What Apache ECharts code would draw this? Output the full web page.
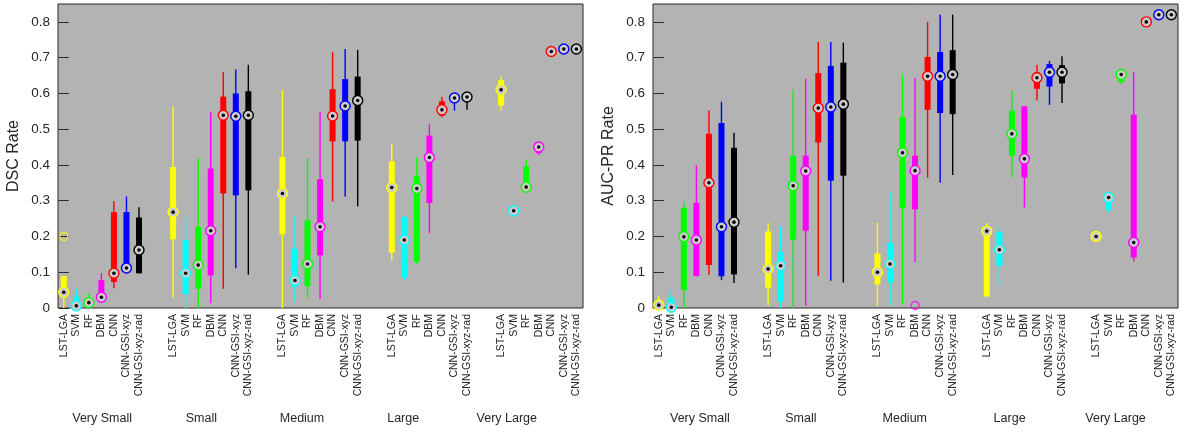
<!DOCTYPE html>
<html>
<head>
<meta charset="utf-8">
<script src="https://cdn.jsdelivr.net/npm/echarts@6/dist/echarts.min.js"></script>
<style>
  html, body { margin: 0; padding: 0; background: #fff; }
  #main { width: 1184px; height: 436px; }
</style>
</head>
<body>
<div id="main"></div>
<script>
var groups = ['Very Small', 'Small', 'Medium', 'Large', 'Very Large'];
var methods = ['LST-LGA', 'SVM', 'RF', 'DBM', 'CNN', 'CNN-GSI-xyz', 'CNN-GSI-xyz-rad'];
var methodColors = ['#ffff00', '#00ffff', '#00ff00', '#ff00ff', '#ff0000', '#0000ff', '#000000'];
var yTicks = [0, 0.1, 0.2, 0.3, 0.4, 0.5, 0.6, 0.7, 0.8];

// DSC rate, 7 methods per size group
var dscLow = [0, 0, 0.003, 0.018, 0.055, 0.11, 0.097,
  0.029, 0, 0, 0.013, 0.054, 0.111, 0.093,
  0, 0.018, 0.027, 0.025, 0.298, 0.312, 0.284,
  0.132, 0.078, 0.123, 0.21, 0.533, 0.552, 0.554,
  0.552, 0.268, 0.338, 0.428, 0.714, 0.722, 0.722];
var dscQ1 = [0.03, 0, 0.005, 0.025, 0.073, 0.11, 0.097,
  0.192, 0.039, 0.054, 0.091, 0.32, 0.315, 0.329,
  0.206, 0.058, 0.061, 0.147, 0.466, 0.466, 0.468,
  0.155, 0.085, 0.129, 0.294, 0.538, 0.578, 0.58,
  0.566, 0.27, 0.338, 0.433, 0.716, 0.723, 0.723];
var dscMed = [0.044, 0.006, 0.015, 0.03, 0.097, 0.112, 0.162,
  0.268, 0.097, 0.12, 0.216, 0.539, 0.536, 0.539,
  0.32, 0.077, 0.123, 0.227, 0.537, 0.565, 0.58,
  0.337, 0.19, 0.334, 0.421, 0.554, 0.587, 0.59,
  0.61, 0.272, 0.338, 0.45, 0.717, 0.724, 0.724];
var dscQ3 = [0.089, 0.032, 0.028, 0.078, 0.268, 0.268, 0.253,
  0.394, 0.19, 0.227, 0.39, 0.591, 0.6, 0.606,
  0.422, 0.166, 0.245, 0.36, 0.612, 0.64, 0.647,
  0.41, 0.255, 0.368, 0.482, 0.578, 0.594, 0.597,
  0.637, 0.275, 0.396, 0.452, 0.719, 0.726, 0.726];
var dscHigh = [0.089, 0.053, 0.041, 0.098, 0.299, 0.312, 0.282,
  0.563, 0.256, 0.42, 0.548, 0.659, 0.667, 0.68,
  0.609, 0.256, 0.42, 0.548, 0.716, 0.724, 0.722,
  0.459, 0.255, 0.42, 0.515, 0.591, 0.598, 0.6,
  0.647, 0.277, 0.414, 0.452, 0.72, 0.729, 0.728];
var dscOutliers = [[0, 0, 0.2]]; // [group, method, value]

// AUC-PR rate
var aucLow = [0, 0, 0, 0.089, 0.092, 0.078, 0.07,
  0.007, 0, 0, 0.007, 0.09, 0.076, 0.071,
  0.007, 0.008, 0.011, 0.128, 0.364, 0.35, 0.372,
  0.032, 0.064, 0.366, 0.281, 0.58, 0.568, 0.573,
  0.198, 0.267, 0.625, 0.129, 0.798, 0.818, 0.818];
var aucQ1 = [0.005, 0, 0.05, 0.089, 0.12, 0.089, 0.094,
  0.057, 0.018, 0.191, 0.216, 0.463, 0.356, 0.37,
  0.066, 0.071, 0.28, 0.276, 0.554, 0.545, 0.542,
  0.032, 0.118, 0.426, 0.365, 0.613, 0.619, 0.628,
  0.199, 0.275, 0.631, 0.141, 0.799, 0.819, 0.819];
var aucMed = [0.008, 0.002, 0.199, 0.19, 0.35, 0.227, 0.24,
  0.109, 0.118, 0.342, 0.383, 0.559, 0.562, 0.57,
  0.1, 0.123, 0.434, 0.384, 0.648, 0.648, 0.653,
  0.215, 0.163, 0.487, 0.417, 0.644, 0.659, 0.659,
  0.2, 0.309, 0.653, 0.183, 0.8, 0.82, 0.82];
var aucQ3 = [0.012, 0.03, 0.28, 0.294, 0.487, 0.517, 0.448,
  0.214, 0.156, 0.426, 0.426, 0.657, 0.677, 0.686,
  0.152, 0.182, 0.534, 0.426, 0.702, 0.716, 0.721,
  0.217, 0.213, 0.552, 0.564, 0.659, 0.682, 0.679,
  0.201, 0.32, 0.653, 0.54, 0.801, 0.821, 0.821];
var aucHigh = [0.033, 0.052, 0.299, 0.399, 0.552, 0.577, 0.49,
  0.238, 0.229, 0.612, 0.641, 0.744, 0.744, 0.742,
  0.238, 0.323, 0.652, 0.643, 0.8, 0.82, 0.82,
  0.238, 0.229, 0.608, 0.564, 0.68, 0.691, 0.704,
  0.205, 0.32, 0.653, 0.659, 0.802, 0.822, 0.822];
var aucOutliers = [[2, 3, 0.007]];

// label positions of the group names (axis units)
var dscGroupLabelPos = [3.06, 10.97, 19.0, 27.07, 35.33];
var aucGroupLabelPos = [3.28, 11.33, 19.62, 27.98, 36.43];

var GROUP_STEP = 8.72;
var X_MIN = -0.46, X_MAX = 41.41;
var textColor = '#262626';
var fontFamily = 'Arial, "Liberation Sans", sans-serif';

function xPos(g, m) { return +(g * GROUP_STEP + m).toFixed(3); }

var boxPositions = [];
groups.forEach(function (g, gi) {
  methods.forEach(function (m, mi) { boxPositions.push(xPos(gi, mi)); });
});

function methodAt(v) {
  for (var i = 0; i < boxPositions.length; i++) {
    if (Math.abs(boxPositions[i] - v) < 0.01) return methods[i % 7];
  }
  return '';
}

function boxData(low, q1, med, q3, high) {
  return boxPositions.map(function (x, i) {
    return [x, low[i], q1[i], med[i], q3[i], high[i], i % 7];
  });
}

function outlierData(list) {
  return list.map(function (o) {
    return { value: [xPos(o[0], o[1]), o[2]], itemStyle: { borderColor: methodColors[o[1]] } };
  });
}

function renderBox(params, api) {
  var x = api.value(0);
  var c = methodColors[api.value(6)];
  var pLow = api.coord([x, api.value(1)]);
  var pQ1 = api.coord([x, api.value(2)]);
  var pMed = api.coord([x, api.value(3)]);
  var pQ3 = api.coord([x, api.value(4)]);
  var pHigh = api.coord([x, api.value(5)]);
  var bw = 6;
  return {
    type: 'group',
    children: [
      { type: 'line', shape: { x1: pLow[0], y1: pLow[1], x2: pHigh[0], y2: pHigh[1] },
        style: { stroke: c, lineWidth: 1.4 } },
      { type: 'rect', shape: { x: pQ3[0] - bw / 2, y: pQ3[1], width: bw, height: pQ1[1] - pQ3[1] },
        style: { fill: c } },
      { type: 'circle', shape: { cx: pMed[0], cy: pMed[1], r: 5 },
        style: { fill: '#cccccc', stroke: c, lineWidth: 1.4 } },
      { type: 'circle', shape: { cx: pMed[0], cy: pMed[1], r: 1.8 },
        style: { fill: '#000' } }
    ]
  };
}

function makeXAxes(gridIndex, groupLabelPos) {
  return [{
    type: 'value', gridIndex: gridIndex, min: X_MIN, max: X_MAX, position: 'bottom',
    axisLine: { show: false }, axisTick: { show: false }, splitLine: { show: false },
    axisLabel: {
      customValues: boxPositions, rotate: 90, margin: 6, fontSize: 10.5,
      color: textColor, fontFamily: fontFamily,
      formatter: function (v) { return methodAt(v); }
    }
  }, {
    type: 'value', gridIndex: gridIndex, min: X_MIN, max: X_MAX, position: 'bottom',
    axisLine: { show: false }, axisTick: { show: false }, splitLine: { show: false },
    axisLabel: {
      customValues: groupLabelPos, margin: 104, fontSize: 12.5,
      color: textColor, fontFamily: fontFamily,
      formatter: function (v) {
        var i = groupLabelPos.indexOf(v);
        return i >= 0 ? groups[i] : '';
      }
    }
  }];
}

function makeYAxes(gridIndex, name) {
  return [{
    type: 'value', gridIndex: gridIndex, min: 0, max: 0.85, position: 'left',
    name: name, nameLocation: 'middle', nameGap: 36,
    nameTextStyle: { fontSize: 16, color: textColor, fontFamily: fontFamily },
    axisLine: { show: false }, splitLine: { show: false },
    axisTick: { inside: true, length: 5, customValues: yTicks, lineStyle: { color: textColor } },
    axisLabel: {
      customValues: yTicks, margin: 8, fontSize: 13.5, color: textColor, fontFamily: fontFamily,
      formatter: function (v) { return v === 0 ? '0' : v.toFixed(1); }
    }
  }, {
    type: 'value', gridIndex: gridIndex, min: 0, max: 0.85, position: 'right',
    axisLine: { show: false }, splitLine: { show: false }, axisLabel: { show: false },
    axisTick: { inside: true, length: 5, customValues: yTicks, lineStyle: { color: textColor } }
  }];
}

var chart = echarts.init(document.getElementById('main'));

var option = {
  animation: false,
  backgroundColor: '#ffffff',
  grid: [
    { left: 58, right: 601, top: 4, bottom: 128, show: true,
      backgroundColor: '#b3b3b3', borderColor: textColor, borderWidth: 1 },
    { left: 653, right: 6, top: 4, bottom: 128, show: true,
      backgroundColor: '#b3b3b3', borderColor: textColor, borderWidth: 1 }
  ],
  xAxis: makeXAxes(0, dscGroupLabelPos).concat(makeXAxes(1, aucGroupLabelPos)),
  yAxis: makeYAxes(0, 'DSC Rate').concat(makeYAxes(1, 'AUC-PR Rate')),
  series: [
    { type: 'custom', xAxisIndex: 0, yAxisIndex: 0, renderItem: renderBox,
      data: boxData(dscLow, dscQ1, dscMed, dscQ3, dscHigh), clip: false },
    { type: 'scatter', xAxisIndex: 0, yAxisIndex: 0, symbol: 'circle', symbolSize: 8,
      itemStyle: { color: 'rgba(0,0,0,0)', borderWidth: 1.4 }, data: outlierData(dscOutliers) },
    { type: 'custom', xAxisIndex: 2, yAxisIndex: 2, renderItem: renderBox,
      data: boxData(aucLow, aucQ1, aucMed, aucQ3, aucHigh), clip: false },
    { type: 'scatter', xAxisIndex: 2, yAxisIndex: 2, symbol: 'circle', symbolSize: 8,
      itemStyle: { color: 'rgba(0,0,0,0)', borderWidth: 1.4 }, data: outlierData(aucOutliers) }
  ]
};

chart.setOption(option);
</script>
</body>
</html>
